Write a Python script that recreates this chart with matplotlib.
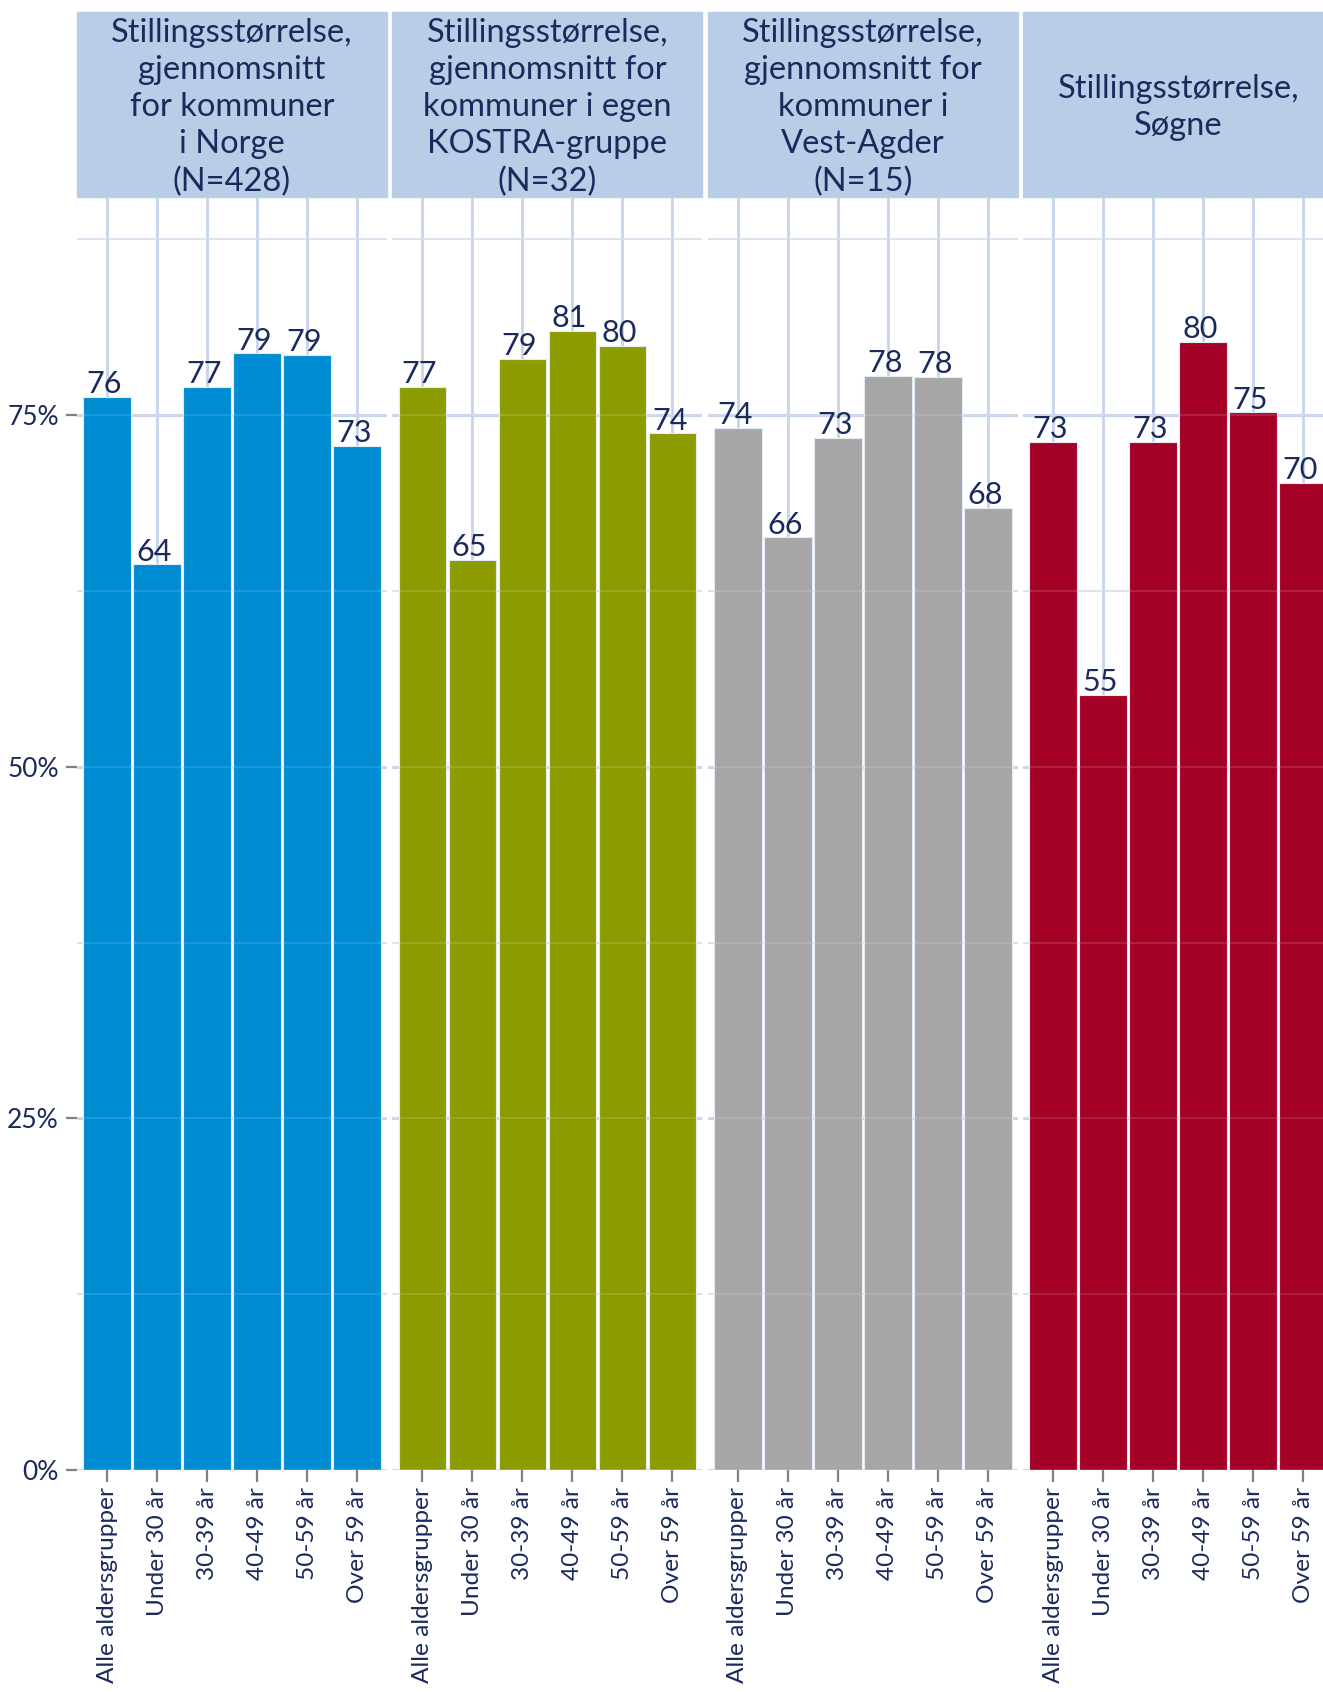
import numpy as np
import matplotlib
matplotlib.use("Agg")
import matplotlib.pyplot as plt
from matplotlib.patches import Rectangle

plt.rcParams['font.family'] = ['Lato', 'DejaVu Sans']

# ------------------------------------------------------------
# data
# ------------------------------------------------------------
age_groups = ["Alle aldersgrupper", "Under 30 år", "30-39 år",
              "40-49 år", "50-59 år", "Over 59 år"]

norge = [76.3, 64.4, 77.0, 79.4, 79.3, 72.8]
kostra = [77.0, 64.7, 79.0, 81.0, 79.9, 73.7]
vest_agder = [74.1, 66.3, 73.4, 77.8, 77.7, 68.4]
sogne = [73.1, 55.1, 73.1, 80.2, 75.2, 70.2]

headers = ["Stillingsstørrelse,\ngjennomsnitt\nfor kommuner\ni Norge\n(N=428)",
           "Stillingsstørrelse,\ngjennomsnitt for\nkommuner i egen\nKOSTRA-gruppe\n(N=32)",
           "Stillingsstørrelse,\ngjennomsnitt for\nkommuner i\nVest-Agder\n(N=15)",
           "Stillingsstørrelse,\nSøgne"]

colors = ["#008cd2", "#8c9c00", "#a5a6a5", "#a50026"]
series = [norge, kostra, vest_agder, sogne]

y_ticks = [0, 25, 50, 75]
y_minor = [12.5, 37.5, 62.5, 87.5]

# ------------------------------------------------------------
# layout (pixels of a 1323x1692 figure)
# ------------------------------------------------------------
W, H = 1323, 1692
fig = plt.figure(figsize=(W / 100, H / 100), dpi=100)

navy = "#1b2a5c"
grid_col = "#c6d5ea"
head_col = "#b9cde6"

panel_w = 310
panel_top = 197
panel_bot = 1470
head_top = 12

x = np.arange(len(age_groups))

for i, (vals, col, head) in enumerate(zip(series, colors, headers)):
    left = 77 + i * 315.4
    ax = fig.add_axes([left / W, (H - panel_bot) / H, panel_w / W,
                       (panel_bot - panel_top) / H])

    ax.bar(x, vals, width=0.95, color=col, edgecolor="#e4ebf5",
           linewidth=0.8, zorder=2)

    # faint gridlines showing through the bars
    for yy in y_ticks + y_minor:
        ax.axhline(yy, color="white", lw=1.5, alpha=0.12, zorder=3)

    for xi, v in zip(x, vals):
        ax.annotate(f"{v:.0f}", (xi, v), xytext=(-2, -1),
                    textcoords="offset points", ha="center", va="bottom",
                    fontsize=22, color=navy, zorder=4)

    ax.set_xlim(-0.6, len(age_groups) - 0.4)
    ax.set_ylim(0, 90.5)

    ax.set_yticks(y_ticks)
    ax.set_yticks(y_minor, minor=True)
    ax.set_yticklabels([f"{t}%" for t in y_ticks])
    ax.set_xticks(x)
    ax.set_xticklabels(age_groups, rotation=90, fontsize=17.6, color=navy)

    ax.grid(which="major", axis="y", color=grid_col, lw=2.2, zorder=0)
    ax.grid(which="minor", axis="y", color=grid_col, lw=1.3, alpha=0.8, zorder=0)
    ax.grid(which="major", axis="x", color=grid_col, lw=2.0, zorder=0)
    ax.set_axisbelow(True)

    for s in ax.spines.values():
        s.set_visible(False)

    ax.tick_params(axis="x", length=8.5, width=1.6, color="#808080", pad=4)
    ax.tick_params(axis="y", which="minor", length=0)
    if i == 0:
        ax.tick_params(axis="y", which="major", length=8, width=1.6,
                       color="#808080", pad=5, labelsize=19, labelcolor=navy)
    else:
        ax.tick_params(axis="y", which="major", left=False, labelleft=False)

    # facet header
    fig.patches.append(Rectangle((left / W, (H - panel_top) / H), panel_w / W,
                                 (panel_top - head_top) / H,
                                 transform=fig.transFigure, color=head_col,
                                 zorder=0))
    fig.text((left + panel_w / 2) / W, (H - (head_top + panel_top) / 2 - 3) / H,
             head, ha="center", va="center", fontsize=23.5, color=navy,
             linespacing=1.3)

plt.savefig("out.png", dpi=100)
